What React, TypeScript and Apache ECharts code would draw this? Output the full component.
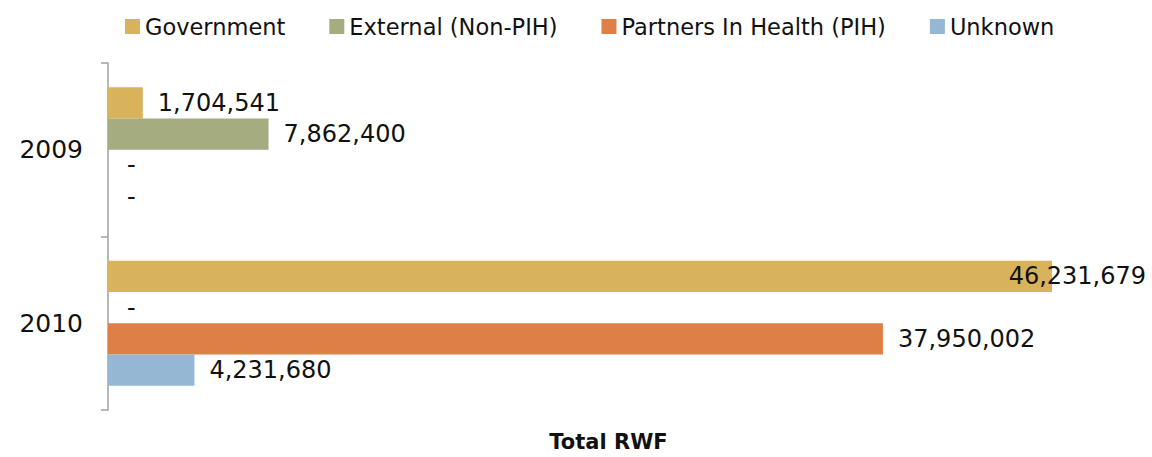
import React, { useEffect, useRef } from "react";
import * as echarts from "echarts";

const categories = ["2009", "2010"];
const seriesNames = ["Government", "External (Non-PIH)", "Partners In Health (PIH)", "Unknown"];
const government = [1704541, 46231679];
const external = [7862400, 0];
const pih = [0, 37950002];
const unknown = [0, 4231680];
const colors = ["#D9B25C", "#A5AC80", "#DE7F48", "#95B7D4"];
const xMax = 50000000;

const FONT = "DejaVu Sans";

export default function App() {
  const ref = useRef<HTMLDivElement>(null);
  useEffect(() => {
    const chart = echarts.init(ref.current!, null, { renderer: "svg" });
    const fmt = (p: any) => (p.value === 0 ? "-" : Number(p.value).toLocaleString("en-US"));
    const allData = [government, external, pih, unknown];
    const series = allData.map((arr, i) => ({
      name: seriesNames[i],
      type: "bar",
      barGap: "0%",
      barCategoryGap: "28%",
      itemStyle: { color: colors[i] },
      label: {
        show: true,
        position: "right",
        distance: 15,
        color: "#111",
        fontFamily: FONT,
        fontSize: 24,
        formatter: fmt,
      },
      data: arr.map((v) =>
        v > xMax * 0.85
          ? { value: v, label: { position: "insideRight", distance: 0, offset: [94, 0] } }
          : v === 0
          ? { value: v, label: { distance: 19 } }
          : v
      ),
    }));
    chart.setOption({
      animation: false,
      textStyle: { fontFamily: FONT },
      legend: {
        data: seriesNames,
        left: 120,
        top: 10,
        itemWidth: 15,
        itemHeight: 15,
        itemGap: 44,
        icon: "rect",
        textStyle: { fontFamily: FONT, fontSize: 22.5, color: "#111" },
      },
      grid: { left: 108, right: 23, top: 63, bottom: 46 },
      xAxis: {
        type: "value",
        min: 0,
        max: xMax,
        axisLine: { show: false },
        axisTick: { show: false },
        axisLabel: { show: false },
        splitLine: { show: false },
        name: "Total RWF",
        nameLocation: "middle",
        nameGap: 21,
        nameTextStyle: {
          fontFamily: FONT,
          fontSize: 21,
          fontWeight: "bold",
          color: "#111",
          padding: [0, 20, 0, 0],
        },
      },
      yAxis: {
        type: "category",
        inverse: true,
        data: categories,
        axisLine: { show: true, lineStyle: { color: "#A0A0A0", width: 1.5 } },
        axisTick: { show: true, length: 7, lineStyle: { color: "#A0A0A0", width: 1.5 } },
        axisLabel: { fontFamily: FONT, fontSize: 25, color: "#111", margin: 25 },
      },
      series,
    });
    return () => chart.dispose();
  }, []);
  return (
    <div
      ref={ref}
      style={{ position: "fixed", left: 0, top: 0, width: 1152, height: 457, background: "#fff" }}
    />
  );
}
